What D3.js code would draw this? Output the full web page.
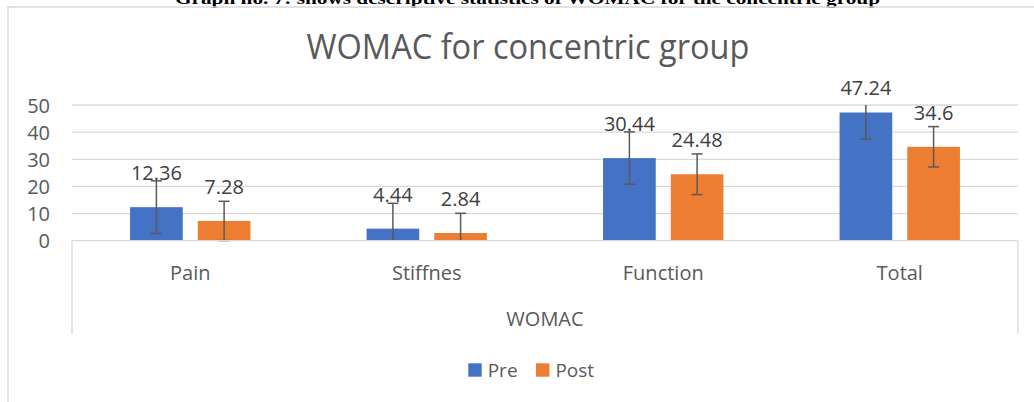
<!DOCTYPE html>
<html>
<head>
<meta charset="utf-8">
<script src="https://cdn.jsdelivr.net/npm/d3@7"></script>
<style>
  html, body { margin: 0; padding: 0; background: #fff; }
  svg { display: block; }
</style>
</head>
<body>
<svg id="chart" width="1034" height="402"></svg>
<script>
// ---- data ----
const categories = ["Pain", "Stiffnes", "Function", "Total"];
const seriesNames = ["Pre", "Post"];
const preValues = [12.36, 4.44, 30.44, 47.24];
const postValues = [7.28, 2.84, 24.48, 34.6];
const preSD = [9.7, 9.34, 9.65, 9.77];
const postSD = [7.24, 7.26, 7.5, 7.44];
const yTicks = [0, 10, 20, 30, 40, 50];
const chartTitle = "WOMAC for concentric group";
const axisTitle = "WOMAC";
const caption = "Graph no. 7: shows descriptive statistics of WOMAC for the concentric group";

// ---- styles ----
const colors = { Pre: "#4472C4", Post: "#ED7D31" };
const font = "'Open Sans', 'DejaVu Sans', sans-serif";
const grid = "#d9d9d9";

const svg = d3.select("#chart");

// caption (partly cut at top)
svg.append("text")
  .attr("x", 527.5).attr("y", 4)
  .attr("text-anchor", "middle")
  .attr("font-family", "'Liberation Serif', 'Times New Roman', serif")
  .attr("font-weight", "bold").attr("font-size", 16)
  .attr("textLength", 705).attr("lengthAdjust", "spacingAndGlyphs")
  .attr("fill", "#000")
  .text(caption);

// chart frame
svg.append("rect")
  .attr("x", 8).attr("y", 7).attr("width", 1040).attr("height", 420)
  .attr("fill", "none").attr("stroke", grid).attr("stroke-width", 1.5);

// title
svg.append("text")
  .attr("x", 528).attr("y", 59)
  .attr("text-anchor", "middle")
  .attr("font-family", font).attr("font-size", 34)
  .attr("textLength", 443).attr("lengthAdjust", "spacingAndGlyphs")
  .attr("fill", "#595959")
  .text(chartTitle);

// scales
const plotLeft = 72, plotRight = 1018;
const y = d3.scaleLinear().domain([0, 50]).range([240.7, 105]);
const x0 = d3.scaleBand().domain(categories).range([plotLeft, plotRight])
  .paddingInner(0.491).paddingOuter(0.2455);
const x1 = d3.scaleBand().domain(seriesNames).range([0, x0.bandwidth()])
  .paddingInner(0.222).paddingOuter(0);

// gridlines
svg.append("g").selectAll("line").data(yTicks.filter(d => d > 0)).join("line")
  .attr("x1", plotLeft).attr("x2", plotRight)
  .attr("y1", d => y(d)).attr("y2", d => y(d))
  .attr("stroke", grid).attr("stroke-width", 1.3);

// y axis (labels only)
const yAxis = d3.axisLeft(y).tickValues(yTicks).tickSize(0).tickPadding(0);
const yg = svg.append("g").attr("transform", "translate(50,0)").call(yAxis);
yg.select(".domain").remove();
yg.selectAll("text")
  .attr("font-family", font).attr("font-size", 20).attr("fill", "#595959")
  .attr("dy", "0.36em");

// data table
const rows = categories.map((c, i) => ({
  cat: c,
  vals: [
    { s: "Pre", v: preValues[i], sd: preSD[i] },
    { s: "Post", v: postValues[i], sd: postSD[i] }
  ]
}));

// bars
const groups = svg.append("g").selectAll("g").data(rows).join("g")
  .attr("transform", d => `translate(${x0(d.cat)},0)`);

groups.selectAll("rect").data(d => d.vals).join("rect")
  .attr("x", d => x1(d.s))
  .attr("y", d => y(d.v))
  .attr("width", x1.bandwidth())
  .attr("height", d => y(0) - y(d.v))
  .attr("fill", d => colors[d.s]);

// category axis box (multi-level)
const axG = svg.append("g");
axG.append("line").attr("x1", plotLeft).attr("x2", plotRight)
  .attr("y1", y(0)).attr("y2", y(0)).attr("stroke", grid).attr("stroke-width", 1.3);
[plotLeft, plotRight].forEach(px => {
  axG.append("line").attr("x1", px).attr("x2", px)
    .attr("y1", y(0)).attr("y2", 334).attr("stroke", grid).attr("stroke-width", 1.3);
});

// error bars (clipped to axis range)
const eb = groups.selectAll("g.eb").data(d => d.vals).join("g").attr("class", "eb");
const ebColor = "#595959";
eb.each(function(d) {
  const g = d3.select(this);
  const cx = x1(d.s) + x1.bandwidth() / 2;
  const lo = d.v - d.sd, hi = d.v + d.sd;
  const loC = Math.max(lo, 0), hiC = Math.min(hi, 50);
  g.append("line").attr("x1", cx).attr("x2", cx)
    .attr("y1", y(loC)).attr("y2", y(hiC))
    .attr("stroke", ebColor).attr("stroke-width", 1.5);
  if (lo >= 0) g.append("line").attr("x1", cx - 5.5).attr("x2", cx + 5.5)
    .attr("y1", y(lo)).attr("y2", y(lo)).attr("stroke", ebColor).attr("stroke-width", 1.5);
  if (hi <= 50) g.append("line").attr("x1", cx - 5.5).attr("x2", cx + 5.5)
    .attr("y1", y(hi)).attr("y2", y(hi)).attr("stroke", ebColor).attr("stroke-width", 1.5);
});

// data labels
groups.selectAll("text.lbl").data(d => d.vals).join("text")
  .attr("class", "lbl")
  .attr("x", d => x1(d.s) + x1.bandwidth() / 2)
  .attr("y", d => Math.max(y(d.v) - 27, 95))
  .attr("text-anchor", "middle")
  .attr("font-family", font).attr("font-size", 20).attr("fill", "#404040")
  .text(d => d3.format("")(d.v));

// category labels
svg.append("g").selectAll("text").data(categories).join("text")
  .attr("x", d => x0(d) + x0.bandwidth() / 2)
  .attr("y", 280)
  .attr("text-anchor", "middle")
  .attr("font-family", font).attr("font-size", 20).attr("fill", "#595959")
  .text(d => d);

// axis title
svg.append("text")
  .attr("x", (plotLeft + plotRight) / 2).attr("y", 326)
  .attr("text-anchor", "middle")
  .attr("font-family", font).attr("font-size", 20).attr("fill", "#595959")
  .text(axisTitle);

// legend
const legendItems = [
  { s: "Pre", x: 468.3 },
  { s: "Post", x: 536 }
];
const lg = svg.append("g").selectAll("g").data(legendItems).join("g")
  .attr("transform", d => `translate(${d.x},363.3)`);
lg.append("rect").attr("width", 13.4).attr("height", 13.4)
  .attr("fill", d => colors[d.s]);
lg.append("text").attr("x", 19.4).attr("y", 13.4)
  .attr("font-family", font).attr("font-size", 19).attr("fill", "#595959")
  .text(d => d.s);
</script>
</body>
</html>
